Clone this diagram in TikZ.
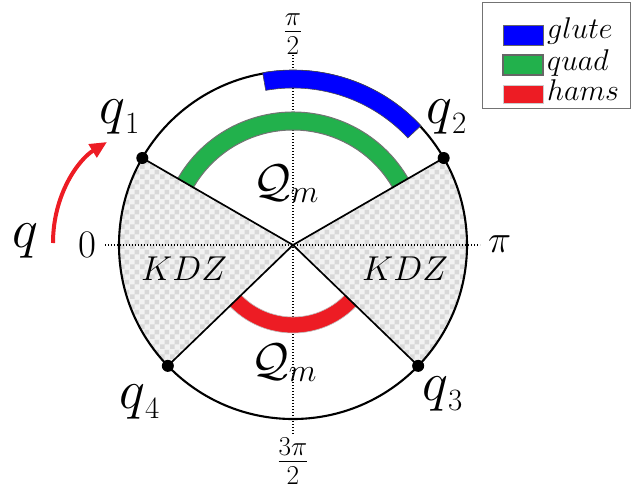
\RequirePackage{fix-cm}
\documentclass[tikz,border=0pt]{standalone}
\usepackage{amsmath}
\usetikzlibrary{patterns,arrows.meta}
\definecolor{gluteblue}{RGB}{0,0,255}
\definecolor{quadgreen}{RGB}{34,177,76}
\definecolor{hamsred}{RGB}{237,28,36}
\definecolor{checkbg}{RGB}{242,242,242}
\definecolor{checkfg}{RGB}{216,216,216}
\pgfdeclarepatternformonly{mychecker}{\pgfpointorigin}{\pgfpoint{10pt}{10pt}}{\pgfpoint{10pt}{10pt}}{%
  \pgfpathrectangle{\pgfpointorigin}{\pgfpoint{5pt}{5pt}}%
  \pgfpathrectangle{\pgfpoint{5pt}{5pt}}{\pgfpoint{5pt}{5pt}}%
  \pgfusepath{fill}%
}
\begin{document}
\begin{tikzpicture}[x=1pt,y=1pt,
  axislbl/.style={inner sep=0pt, font=\fontsize{39}{41}\selectfont},
  qlbl/.style={inner sep=0pt, anchor=base west, font=\fontsize{55}{60}\selectfont},
  kdz/.style={inner sep=0pt, anchor=base west, font=\fontsize{34.5}{38}\selectfont},
  qm/.style={inner sep=0pt, anchor=base west, font=\fontsize{46}{50}\selectfont},
  leglbl/.style={inner sep=0pt, anchor=base west, font=\fontsize{30}{32}\selectfont},
  axisline/.style={line width=1.3pt, dash pattern=on 1.3pt off 1.7pt},
  bound/.style={line width=1.7pt, black},
  qdot/.style={circle, fill=black, inner sep=0pt, minimum size=12pt},
  kdzfill/.style={pattern=mychecker, pattern color=checkfg}
]
\useasboundingbox (-293,-243) rectangle (338,245);

% KDZ wedges
\fill[checkbg] (0,0) -- (150:174) arc[start angle=150,end angle=224,radius=174] -- cycle;
\fill[kdzfill] (0,0) -- (150:174) arc[start angle=150,end angle=224,radius=174] -- cycle;
\fill[checkbg] (0,0) -- (-44:174) arc[start angle=-44,end angle=30,radius=174] -- cycle;
\fill[kdzfill] (0,0) -- (-44:174) arc[start angle=-44,end angle=30,radius=174] -- cycle;

% axes
\coordinate (axL) at (-188,0);
\coordinate (axR) at (187,0);
\coordinate (axT) at (0,190);
\coordinate (axB) at (0,-190);
\draw[axisline] (axL) -- (axR);
\draw[axisline] (axT) -- (axB);

% circle
\draw[line width=2.1pt] (0,0) circle[radius=174];

% muscle arcs
\filldraw[fill=gluteblue, draw=black!70, line width=0.6pt]
  (43:157) arc[start angle=43,end angle=100,radius=157] -- (100:175)
  arc[start angle=100,end angle=43,radius=175] -- cycle;
\filldraw[fill=quadgreen, draw=black!55, line width=1pt]
  (30:115) arc[start angle=30,end angle=150,radius=115] -- (150:133)
  arc[start angle=150,end angle=30,radius=133] -- cycle;
\filldraw[fill=hamsred, draw=black!25, line width=0.6pt]
  (224:72) arc[start angle=224,end angle=316,radius=72] -- (316:88)
  arc[start angle=316,end angle=224,radius=88] -- cycle;

% boundary points
\coordinate (O) at (0,0);
\node[qdot] (p1) at (150:174) {};
\node[qdot] (p2) at (30:174) {};
\node[qdot] (p3) at (-44:174) {};
\node[qdot] (p4) at (224:174) {};
\draw[bound] (O) -- (p1.center);
\draw[bound] (O) -- (p2.center);
\draw[bound] (O) -- (p3.center);
\draw[bound] (O) -- (p4.center);

% labels
\node[qlbl] (q1) at (-194,122) {$q$\raisebox{-10pt}{\fontsize{31}{31}\selectfont 1}};
\node[qlbl] (q2) at (133,122) {$q$\raisebox{-10pt}{\fontsize{31}{31}\selectfont 2}};
\node[qlbl] (q3) at (129,-155) {$q$\raisebox{-10pt}{\fontsize{31}{31}\selectfont 3}};
\node[qlbl] (q4) at (-174,-163) {$q$\raisebox{-10pt}{\fontsize{31}{31}\selectfont 4}};
\node[qlbl] (q) at (-281,-2) {$q$};

\node[qm] (qmu) at (-40,49) {$\mathcal{Q}_m$};
\node[qm] (qml) at (-42,-130) {$\mathcal{Q}_m$};
\node[kdz] (kdzl) at (-152,-35) {$KDZ$};
\node[kdz] (kdzr) at (69,-35) {$KDZ$};

\node[axislbl, anchor=base west] (zero) at (-215,-12) {$0$};
\node[axislbl, anchor=base west] (pi) at (195,-7) {$\pi$};
\node[axislbl, anchor=base] (pihalf) at (0,204) {$\frac{\pi}{2}$};
\node[axislbl, anchor=base] (threepihalf) at (0,-226) {$\frac{3\pi}{2}$};

% red arrow
\coordinate (arS) at (-240,2);
\coordinate (arE) at (-186,103);
\draw[hamsred, line width=4pt, -{Triangle[length=17pt,width=15pt]}]
  (arS) .. controls (-240,50) and (-215,85) .. (arE);

% legend
\draw[black!55, line width=0.8pt] (189,243) rectangle (337,137);
\filldraw[fill=gluteblue, draw=black!60, line width=0.8pt] (210,220) rectangle (250,200);
\filldraw[fill=quadgreen, draw=black!60, line width=1.2pt] (210,190) rectangle (250,170);
\filldraw[fill=hamsred, draw=black!20, line width=0.8pt] (210,160) rectangle (250,142);
\node[leglbl] (lg1) at (254,207) {$glute$};
\node[leglbl] (lg2) at (254,175) {$quad$};
\node[leglbl] (lg3) at (254,145) {$hams$};
\end{tikzpicture}
\end{document}
